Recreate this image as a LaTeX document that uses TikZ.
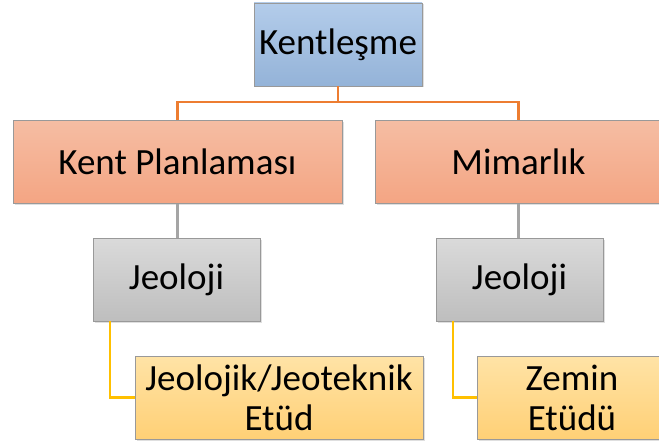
\documentclass[tikz,border=0pt]{standalone}
\usepackage{fontspec}
\setmainfont{Carlito}
\usetikzlibrary{arrows.meta,positioning,shadows}

\definecolor{linkorange}{HTML}{ED7D31}
\definecolor{linkgray}{HTML}{A5A5A5}
\definecolor{linkgold}{HTML}{FFC000}
\definecolor{blueTop}{HTML}{B3CCEA}
\definecolor{blueBot}{HTML}{94B3D8}
\definecolor{redTop}{HTML}{F5BDA3}
\definecolor{redBot}{HTML}{F4A583}
\definecolor{grayTop}{HTML}{DADADA}
\definecolor{grayBot}{HTML}{BEBEBE}
\definecolor{goldTop}{HTML}{FFE3A6}
\definecolor{goldBot}{HTML}{FFD076}

\begin{document}
\begin{tikzpicture}[x=1pt,y=-1pt,
    box/.style={draw=black!40, line width=0.8pt, inner sep=0pt, minimum height=83pt,
        align=center, font=\fontsize{37}{40}\selectfont,
        drop shadow={shadow xshift=1.5pt, shadow yshift=-1.5pt, opacity=0.25}},
    bluebox/.style={box, top color=blueTop, bottom color=blueBot},
    redbox/.style={box, top color=redTop, bottom color=redBot},
    graybox/.style={box, top color=grayTop, bottom color=grayBot},
    goldbox/.style={box, top color=goldTop, bottom color=goldBot},
    link/.style={line width=2.2pt}]

    \path[use as bounding box, clip] (0,0) rectangle (659,444);

    \node[bluebox, minimum width=168pt] (kent) at (338,44.5) {Kentleşme};

    \node[redbox, minimum width=329pt] (plan) at (177.5,162) {Kent Planlaması};
    \node[redbox, minimum width=287pt] (mimar) at (518.5,162) {Mimarlık};

    \node[graybox, minimum width=167pt] (jeoA) at (176.5,279.5) {Jeoloji};
    \node[graybox, minimum width=167pt] (jeoB) at (519.5,279.5) {Jeoloji};

    \node[goldbox, minimum width=288pt] (etudA) at (279,397.5) {Jeolojik/Jeoteknik\\Etüd};
    \node[goldbox, minimum width=190pt] (etudB) at (572,397.5) {Zemin\\Etüdü};

    % links
    \draw[link, linkorange] (kent.south) -- ++(0,16) -| (plan.north);
    \draw[link, linkorange] (kent.south) -- ++(0,16) -| (mimar.north);

    \draw[link, linkgray] (plan.south) -- (plan.south |- jeoA.north);
    \draw[link, linkgray] (mimar.south) -- (mimar.south |- jeoB.north);

    \draw[link, linkgold] ([xshift=17pt]jeoA.south west) |- (etudA.west);
    \draw[link, linkgold] ([xshift=17pt]jeoB.south west) |- (etudB.west);

\end{tikzpicture}
\end{document}
